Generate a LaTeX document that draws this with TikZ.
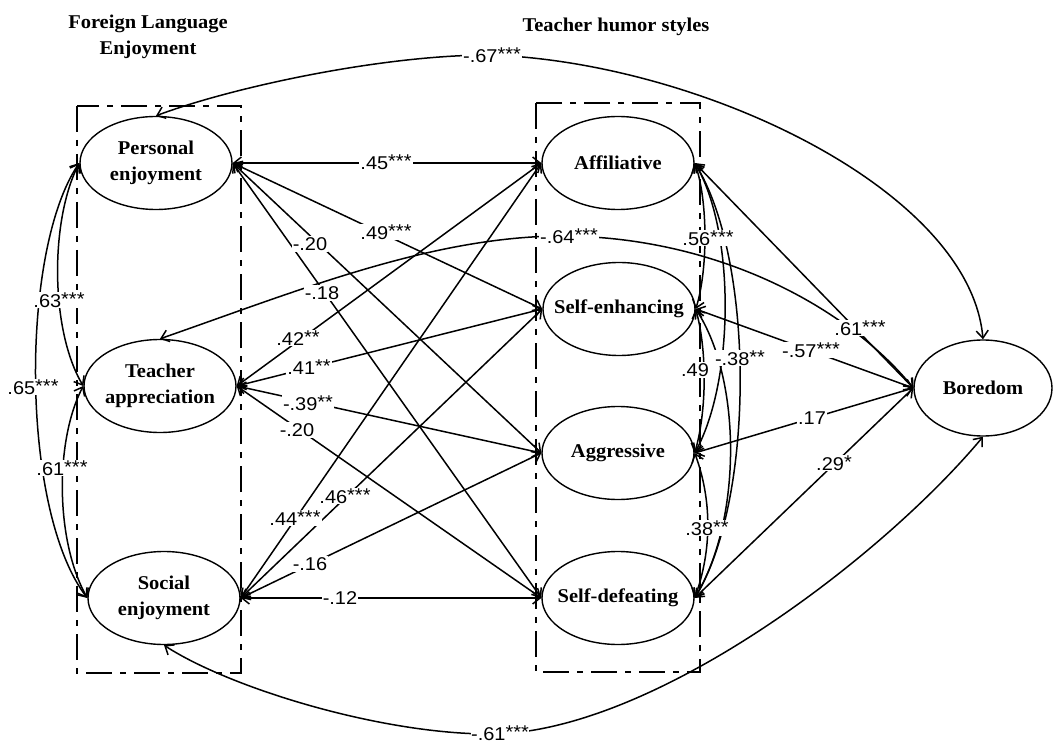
\documentclass[tikz,border=0pt]{standalone}
\usepackage{fontspec}
\newfontfamily\nodefont[FakeStretch=1.05]{Liberation Serif}
\newfontfamily\labfont[FakeStretch=1.08]{Liberation Sans}
\usetikzlibrary{shapes.geometric,arrows.meta}
\newcommand{\st}[1]{\raisebox{1.5pt}{#1}}
\tikzset{
  ell/.style={draw, ellipse, line width=1.4pt, minimum width=152pt, minimum height=93pt, inner sep=0pt, fill=white},
  ntext/.style={font=\nodefont\bfseries\fontsize{19.5}{26}\selectfont, align=center, inner sep=0pt},
  ttl/.style={font=\nodefont\bfseries\fontsize{19.5}{26}\selectfont, align=center, inner sep=0pt},
  lab/.style={font=\labfont\fontsize{18.5}{20}\selectfont, fill=white, inner sep=1pt},
  rel/.style={line width=1.5pt, {Straight Barb[length=7.5pt,width=12pt]}-{Straight Barb[length=7.5pt,width=12pt]}},
  frame/.style={line width=1.8pt, dash pattern=on 26pt off 8pt on 6pt off 8pt},
}
\begin{document}
\begin{tikzpicture}[x=1pt,y=-1pt]
\useasboundingbox[fill=white] (0,0) rectangle (1053,746);

% titles
\node[ttl] (t1) at (148,37) {Foreign Language\\Enjoyment};
\node[ttl] (t2) at (616,27) {Teacher humor styles};

% group frames
\draw[frame] (77,106) rectangle (241,673);
\draw[frame] (536,103) rectangle (700,672);

% latent variables
\node[ell] (pe) at (156,163) {};
\node[ell] (ta) at (160,386) {};
\node[ell] (se) at (164,598) {};
\node[ell] (aff) at (618,163) {};
\node[ell] (sen) at (619,309) {};
\node[ell] (agg) at (618,453) {};
\node[ell] (sd) at (618,598) {};
\node[ell, minimum width=138pt, minimum height=96pt] (bor) at (983,388) {};

\node[ntext] (pe-t) at (pe) {Personal\\enjoyment};
\node[ntext] (ta-t) at (ta) {Teacher\\appreciation};
\node[ntext] (se-t) at (se) {Social\\enjoyment};
\node[ntext] (aff-t) at (aff) {Affiliative};
\node[ntext] (sen-t) at (sen) {Self-enhancing};
\node[ntext] (agg-t) at (agg) {Aggressive};
\node[ntext] (sd-t) at (sd) {Self-defeating};
\node[ntext] (bor-t) at (bor) {Boredom};

% FLE <-> humor styles
\draw[rel] (pe.east) -- (aff.west);
\draw[rel] (pe.east) -- (sen.west);
\draw[rel] (pe.east) -- (agg.west);
\draw[rel] (pe.east) -- (sd.west);
\draw[rel] (ta.east) -- (aff.west);
\draw[rel] (ta.east) -- (sen.west);
\draw[rel] (ta.east) -- (agg.west);
\draw[rel] (ta.east) -- (sd.west);
\draw[rel] (se.east) -- (aff.west);
\draw[rel] (se.east) -- (sen.west);
\draw[rel] (se.east) -- (agg.west);
\draw[rel] (se.east) -- (sd.west);

% humor styles <-> boredom
\draw[rel] (aff.east) -- (bor.west);
\draw[rel] (sen.east) -- (bor.west);
\draw[rel] (agg.east) -- (bor.west);
\draw[rel] (sd.east) -- (bor.west);

% FLE correlations
\draw[rel] (pe.west) .. controls (50,220) and (50,330) .. (ta.west);
\draw[rel] (ta.west) .. controls (55,440) and (55,540) .. (se.west);
\draw[rel] (pe.west) .. controls (20,250) and (20,510) .. (se.west);

% humor style correlations
\draw[rel] (aff.east) .. controls (708,200) and (708,270) .. (sen.east);
\draw[rel] (sen.east) .. controls (707,350) and (707,410) .. (agg.east);
\draw[rel] (agg.east) .. controls (712,500) and (712,550) .. (sd.east);
\draw[rel] (aff.east) .. controls (735,230) and (735,380) .. (agg.east);
\draw[rel] (sen.east) .. controls (742,380) and (742,520) .. (sd.east);
\draw[rel] (aff.east) .. controls (755,260) and (755,500) .. (sd.east);

% long curves to boredom
\draw[rel] (pe.north) .. controls (230,88) and (380,55) .. (490,55) .. controls (700,62) and (970,190) .. (bor.north);
\draw[rel] (ta.north) .. controls (300,290) and (430,237) .. (560,236) .. controls (720,236) and (850,310) .. (bor.west);
\draw[rel] (se.south) .. controls (230,688) and (380,734) .. (490,734) .. controls (650,734) and (880,560) .. (bor.south);

% coefficients
\node[lab] (c1) at (386,162) {.45\st{***}};
\node[lab] (c2) at (386,232) {.49\st{***}};
\node[lab] (c3) at (310,244) {-.20};
\node[lab] (c4) at (322,293) {-.18};
\node[lab] (c5) at (298,338) {.42\st{**}};
\node[lab] (c6) at (309,367) {.41\st{**}};
\node[lab] (c7) at (308,403) {-.39\st{**}};
\node[lab] (c8) at (297,430) {-.20};
\node[lab] (c9) at (295,518) {.44\st{***}};
\node[lab] (c10) at (345,496) {.46\st{***}};
\node[lab] (c11) at (310,564) {-.16};
\node[lab] (c12) at (340,598) {-.12};
\node[lab] (c13) at (569,236) {-.64\st{***}};
\node[lab] (c14) at (708,238) {.56\st{***}};
\node[lab] (c15) at (695,370) {.49};
\node[lab] (c16) at (740,358) {-.38\st{**}};
\node[lab] (c17) at (707,528) {.38\st{**}};
\node[lab] (c18) at (860,328) {.61\st{***}};
\node[lab] (c19) at (811,350) {-.57\st{***}};
\node[lab] (c20) at (812,418) {.17};
\node[lab] (c21) at (834,463) {.29\st{*}};
\node[lab] (c22) at (492,55) {-.67\st{***}};
\node[lab, inner sep=0.5pt] (c23) at (500,733) {-.61\st{***}};
\node[lab] (c24) at (59,300) {.63\st{***}};
\node[lab] (c25) at (33,387) {.65\st{***}};
\node[lab] (c26) at (62,468) {.61\st{***}};
\end{tikzpicture}
\end{document}
